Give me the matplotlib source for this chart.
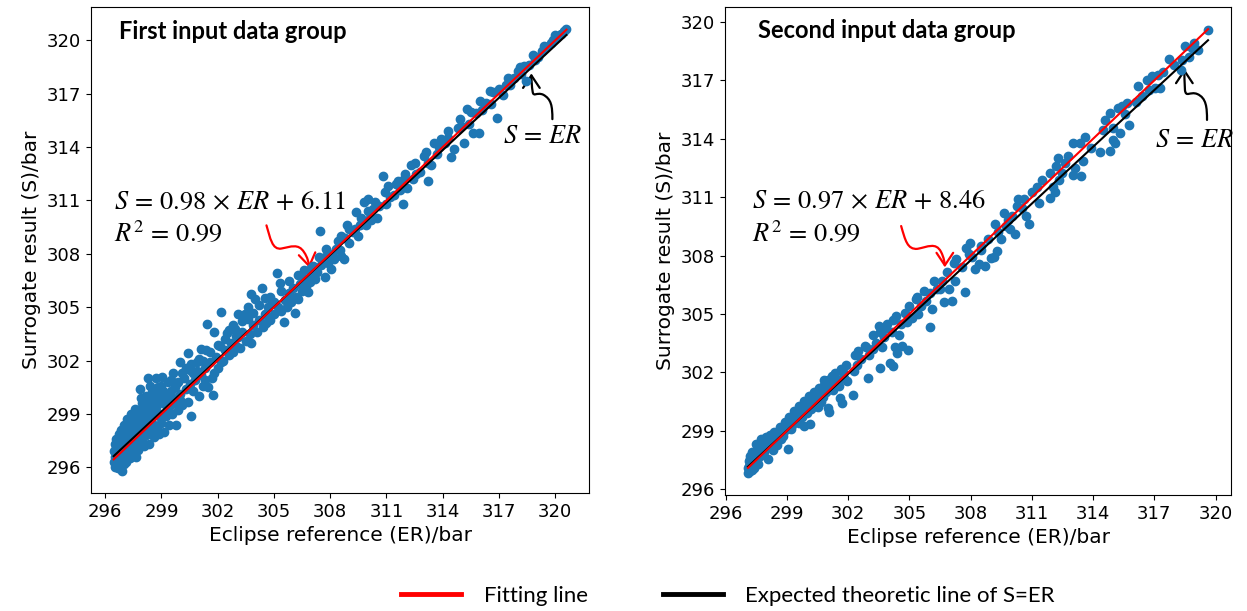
import numpy as np
import matplotlib
matplotlib.use('Agg')
import matplotlib.pyplot as plt
from matplotlib.lines import Line2D
from matplotlib.path import Path
from matplotlib.patches import FancyArrowPatch

plt.rcParams['mathtext.fontset'] = 'stix'

# first input data group: (ER, S)
pts1 = [
    (296.45, 296.3), (296.48, 296.9), (296.5, 297.3), (296.52, 296.0), (296.55, 296.6),
    (296.6, 297.6), (296.62, 296.2), (296.65, 297.0), (296.7, 295.95), (296.72, 297.9),
    (296.75, 296.5), (296.78, 297.3), (296.8, 296.8), (296.85, 298.1), (296.88, 295.8),
    (296.9, 296.3), (296.92, 297.6), (296.95, 297.0), (297.0, 298.4), (297.02, 296.2),
    (297.05, 296.7), (297.08, 297.3), (297.1, 298.0), (297.12, 296.5), (297.15, 298.7),
    (297.2, 297.6), (297.22, 296.9), (297.25, 298.3), (297.3, 296.5), (297.32, 297.2),
    (297.35, 299.0), (297.4, 297.9), (297.45, 296.8), (297.5, 298.6), (297.55, 297.4),
    (297.6, 299.3), (297.62, 296.6),
    (296.5, 296.6), (296.55, 297.1), (296.6, 296.4), (296.65, 297.4), (296.7, 296.7),
    (296.75, 297.7), (296.8, 296.1), (296.85, 297.2), (296.9, 296.6), (296.95, 297.8),
    (297.0, 296.9), (297.05, 297.5), (297.1, 296.3), (297.15, 297.9), (297.2, 297.1),
    (297.25, 296.7), (297.3, 298.0), (297.35, 297.6), (297.4, 296.9), (297.45, 298.3),
    (297.5, 297.2), (297.55, 298.0), (297.6, 297.7), (297.65, 298.5), (297.7, 297.3),
    (297.75, 299.1), (297.8, 297.9), (297.85, 298.4), (297.9, 299.9), (297.95, 297.6),
    (298.0, 299.3), (298.05, 298.6), (298.1, 297.9), (298.2, 299.5), (298.25, 298.9),
    (298.3, 298.2), (298.4, 300.6), (298.45, 299.2), (298.5, 298.5), (298.6, 299.9),
    (298.65, 299.0), (298.7, 298.0), (298.8, 300.5), (298.9, 299.7), (298.95, 298.8),
    (299.1, 300.3), (299.2, 299.0), (299.3, 300.0), (299.4, 299.4), (299.5, 300.9),
    (299.6, 299.9), (299.7, 300.5), (299.9, 300.8), (300.0, 299.8), (300.1, 301.3),
    (300.3, 301.6), (300.5, 300.7), (300.7, 301.3), (300.9, 301.4), (301.0, 302.1),
    (301.2, 302.0), (301.3, 300.9), (301.6, 302.5), (301.7, 301.0), (302.0, 302.9),
    (302.2, 301.9), (302.4, 303.2), (302.6, 303.7), (302.8, 304.0), (303.0, 303.4),
    (303.3, 304.2), (303.6, 305.0), (303.9, 304.7), (304.2, 305.1), (304.5, 305.5),
    (304.8, 305.6), (305.0, 305.3), (305.4, 305.9), (305.8, 306.5), (306.1, 305.5),
    (306.3, 306.8), (306.6, 307.1), (307.0, 307.2), (307.4, 307.8), (307.8, 308.3),
    (308.3, 308.3), (308.6, 309.0), (309.0, 309.4), (309.6, 309.6), (310.0, 310.4),
    (310.4, 310.9), (311.1, 311.8), (311.6, 312.1), (312.0, 312.5), (312.5, 313.1),
    (313.1, 313.7), (313.8, 314.0), (314.3, 314.9), (314.9, 315.6), (315.5, 316.0),
    (316.0, 316.6), (316.7, 317.1), (317.5, 317.9), (318.1, 318.5), (318.8, 319.2),
    (319.4, 319.7), (320.0, 320.3),
    (297.7, 298.1), (297.75, 297.0), (297.8, 298.8), (297.85, 300.4), (297.9, 297.5),
    (297.95, 299.6), (298.0, 298.3), (298.05, 297.2), (298.1, 299.1), (298.15, 300.0),
    (298.2, 297.8), (298.3, 301.05), (298.3, 298.6), (298.35, 297.3), (298.4, 299.7),
    (298.45, 298.0), (298.5, 300.25), (298.55, 298.9), (298.6, 297.7), (298.7, 301.05),
    (298.7, 299.4), (298.75, 298.2), (298.8, 300.0), (298.85, 297.9), (298.9, 299.0),
    (299.0, 300.6), (299.0, 298.5), (299.05, 301.1), (299.1, 299.6), (299.15, 298.0),
    (299.2, 300.1), (299.25, 298.9), (299.3, 299.3), (299.35, 300.8), (299.4, 298.4),
    (299.45, 299.8),
    (299.5, 300.3), (299.55, 299.0), (299.6, 301.3), (299.7, 299.6), (299.8, 298.4),
    (299.8, 300.7), (299.9, 299.2), (300.0, 301.9), (300.0, 300.1), (300.1, 299.5),
    (300.2, 301.0), (300.3, 300.4), (300.4, 302.45), (300.4, 299.7), (300.5, 301.5),
    (300.6, 298.9), (300.6, 301.8), (300.7, 300.3), (300.8, 300.9), (300.9, 301.9),
    (301.0, 300.0), (301.1, 302.65), (301.1, 301.2), (301.2, 300.6), (301.3, 301.6),
    (301.45, 304.05), (301.4, 302.6), (301.5, 300.5), (301.6, 301.9), (301.75, 300.05),
    (301.8, 303.6), (301.8, 301.3), (301.9, 302.2), (302.0, 301.6), (302.1, 302.8),
    (302.2, 304.75), (302.3, 302.0), (302.4, 302.6), (302.5, 303.55),
    (302.6, 302.3), (302.7, 303.0), (302.8, 302.5), (302.9, 303.8), (303.0, 302.8),
    (303.1, 304.6), (303.1, 303.3), (303.2, 302.7), (303.3, 303.6), (303.45, 304.6),
    (303.5, 303.1), (303.6, 304.35), (303.7, 303.5), (303.8, 305.75), (303.8, 303.0),
    (303.9, 304.0), (304.0, 305.45), (304.1, 303.6), (304.2, 304.3), (304.35, 306.1),
    (304.4, 303.9), (304.5, 304.6), (304.6, 304.1), (304.7, 305.0), (304.8, 304.3),
    (304.9, 305.3), (305.0, 304.6), (305.15, 306.9), (305.2, 305.0), (305.3, 306.35),
    (305.4, 304.8), (305.55, 304.15), (305.6, 305.4), (305.7, 305.0), (305.8, 305.8),
    (305.9, 305.3), (306.1, 304.7), (306.0, 306.1),
    (306.2, 305.6), (306.3, 305.45), (306.4, 306.3), (306.5, 305.9), (306.6, 306.6),
    (306.7, 306.2), (306.8, 305.85), (306.9, 306.4), (307.0, 306.8), (307.1, 307.3),
    (307.2, 306.6), (307.3, 307.0), (307.45, 309.3), (307.5, 307.4), (307.7, 306.7),
    (307.7, 307.8), (307.9, 307.5), (308.05, 307.15), (308.1, 308.0), (308.2, 307.7),
    (308.4, 308.7), (308.5, 308.2), (308.6, 307.9), (308.75, 307.7), (308.8, 308.9),
    (308.9, 309.6), (309.0, 308.6),
    (309.2, 309.2), (309.3, 309.4), (309.4, 310.35), (309.5, 309.0), (309.65, 310.0),
    (309.8, 310.9), (309.9, 309.6), (310.0, 311.1), (310.1, 310.0), (310.2, 309.9),
    (310.3, 310.5), (310.5, 310.0), (310.6, 310.7), (310.8, 312.4), (310.9, 311.5),
    (311.0, 310.8), (311.2, 311.2), (311.4, 311.3), (311.5, 311.9), (311.7, 311.6),
    (311.9, 310.8), (311.95, 312.2), (312.1, 311.7), (312.3, 313.0), (312.4, 312.2),
    (312.6, 312.5), (312.8, 312.6), (313.0, 313.5), (313.2, 312.1), (313.2, 313.1),
    (313.4, 313.0),
    (313.55, 314.25), (313.7, 313.6), (313.9, 314.45), (314.1, 314.25), (314.3, 314.5),
    (314.45, 313.45), (314.6, 313.9), (314.8, 315.1), (315.0, 315.2), (315.15, 314.25),
    (315.3, 316.15), (315.4, 315.3), (315.6, 314.8), (315.8, 315.9), (315.95, 314.8),
    (316.1, 316.1), (316.3, 316.5), (316.5, 317.15), (316.6, 316.4), (316.9, 315.65),
    (317.0, 317.25), (317.2, 316.9),
    (317.4, 317.5), (317.6, 317.5), (317.8, 317.9), (318.0, 318.25), (318.2, 318.1),
    (318.35, 318.55), (318.45, 317.7), (318.6, 318.6), (318.9, 318.9), (319.1, 319.05),
    (319.3, 319.4), (319.5, 319.6), (319.75, 319.85), (319.9, 320.0), (320.1, 320.2),
    (320.3, 320.35), (320.45, 320.5), (320.6, 320.63),
]

# second input data group
pts2 = [
    (297.1, 296.85), (297.12, 297.1), (297.15, 297.45), (297.18, 296.95), (297.2, 297.7),
    (297.25, 297.25), (297.3, 297.9), (297.35, 297.4), (297.4, 297.1), (297.45, 297.7),
    (297.5, 298.35), (297.55, 297.5), (297.6, 298.0), (297.7, 297.7), (297.75, 298.6),
    (297.8, 298.2), (297.9, 297.9), (297.95, 298.5), (298.05, 298.15), (298.1, 297.55),
    (298.15, 298.35), (298.2, 298.8), (298.3, 298.0), (298.35, 298.95), (298.4, 298.5),
    (298.5, 298.3), (298.6, 298.9), (298.7, 298.6), (298.75, 299.2), (298.85, 299.0),
    (298.95, 299.4), (299.05, 298.07), (299.05, 299.15), (299.15, 299.55), (299.2, 299.1),
    (299.3, 299.45), (299.4, 299.75),
    (297.15, 297.2), (297.22, 297.55), (297.28, 297.0), (297.35, 297.75), (297.42, 297.45),
    (297.5, 297.9), (297.58, 297.3), (297.65, 298.2), (297.72, 297.9), (297.85, 298.4),
    (297.92, 298.05), (298.0, 298.7), (298.08, 298.3), (298.25, 298.6), (298.32, 298.25),
    (298.45, 298.9), (298.55, 298.55), (298.65, 299.2), (298.8, 298.75), (298.9, 299.45),
    (299.0, 299.1), (299.1, 299.7), (299.25, 299.3), (299.35, 300.0), (299.45, 299.6),
    (299.6, 300.3), (299.7, 299.9), (299.85, 300.55), (299.95, 300.15), (300.1, 300.8),
    (300.25, 300.45), (300.35, 301.0), (300.5, 300.6), (300.6, 301.2), (300.8, 301.35),
    (301.0, 301.6), (301.2, 301.8), (301.35, 301.95), (301.5, 301.6), (301.75, 302.0),
    (301.9, 302.4), (302.5, 303.1), (302.9, 303.3), (303.2, 303.9), (303.5, 304.4),
    (303.9, 304.5), (304.2, 304.7), (304.6, 304.5), (305.0, 305.4), (305.4, 305.9),
    (306.0, 306.1), (306.6, 306.7), (307.2, 307.6), (307.9, 308.1), (308.5, 308.5),
    (309.2, 309.6), (310.6, 310.9), (311.5, 311.9), (312.3, 313.0), (313.6, 314.1),
    (315.4, 315.7), (316.2, 316.7), (317.7, 318.1), (318.5, 318.75),
    (299.58, 299.4), (299.63, 299.95), (299.73, 299.7), (299.83, 299.25), (299.88, 300.2),
    (299.98, 299.9), (300.08, 300.4), (300.13, 299.35), (300.18, 300.1), (300.28, 300.65),
    (300.38, 300.3), (300.49, 300.8), (300.54, 300.25), (300.64, 300.9), (300.69, 300.5),
    (300.79, 300.75), (300.84, 301.6), (300.94, 301.0), (301.04, 300.2), (301.09, 299.95),
    (301.15, 301.3), (301.25, 301.1), (301.4, 301.5), (301.56, 301.3), (301.61, 300.7),
    (301.66, 302.2), (301.71, 300.45), (301.81, 301.7), (301.97, 301.55),
    (302.23, 300.85), (302.28, 302.1), (302.33, 302.9), (302.43, 302.4), (302.64, 302.7),
    (302.84, 303.35), (303.0, 301.7), (303.05, 302.9), (303.2, 303.2), (303.36, 303.5),
    (303.56, 304.1), (303.56, 302.25), (303.67, 303.3), (303.77, 303.8), (303.87, 304.3),
    (304.03, 302.5), (304.13, 304.1), (304.18, 302.35), (304.28, 303.3), (304.34, 304.9),
    (304.39, 303.0), (304.49, 303.9), (304.64, 303.35), (304.8, 305.05), (304.9, 304.6),
    (304.95, 303.15), (305.11, 304.8), (305.31, 305.75), (305.42, 305.0), (305.57, 305.4),
    (305.72, 306.2), (305.83, 305.65), (306.03, 304.35), (306.13, 305.25), (306.23, 306.7),
    (306.34, 306.3), (306.49, 306.28), (306.7, 305.63), (306.85, 307.14), (306.95, 306.3),
    (307.11, 305.65), (307.26, 306.7), (307.31, 307.83), (307.57, 307.4), (307.72, 306.14),
    (307.78, 308.4), (307.98, 308.65), (308.08, 307.95), (308.24, 307.31), (308.39, 307.57),
    (308.49, 308.3), (308.7, 307.48), (308.85, 308.85), (309.0, 307.9), (309.16, 307.91),
    (309.31, 308.26), (309.36, 309.2), (309.47, 308.85), (309.62, 310.2), (309.72, 309.5),
    (309.82, 309.85), (309.93, 309.35), (310.03, 310.05), (310.18, 309.1), (310.29, 310.55),
    (310.34, 310.9),
    (310.5, 310.45), (310.7, 310.05), (310.85, 309.6), (311.0, 311.25), (311.26, 311.55),
    (311.36, 310.7), (311.87, 310.95), (312.13, 311.25), (312.03, 311.55), (311.87, 312.25),
    (312.18, 312.6), (312.33, 311.9), (312.49, 312.25), (312.64, 312.75), (312.79, 313.1),
    (313.0, 312.15), (313.1, 312.5), (313.41, 312.1), (313.51, 312.85), (313.0, 313.8),
    (313.36, 313.8),
    (313.88, 313.55), (314.34, 313.3), (314.96, 313.95), (314.85, 313.35), (315.06, 313.8),
    (315.32, 314.3), (314.96, 314.55), (314.5, 314.45), (314.6, 314.95), (314.85, 315.3),
    (315.57, 315.25), (315.78, 314.7), (315.21, 315.6), (315.67, 315.85), (316.08, 315.9),
    (316.39, 316.2), (316.75, 316.5), (317.01, 316.6), (317.27, 316.6), (316.65, 317.0),
    (316.9, 317.2), (317.16, 317.27), (317.42, 317.45),
    (317.94, 317.8), (318.3, 317.55), (318.35, 318.05), (318.71, 318.2), (318.86, 318.65),
    (318.96, 318.9), (319.12, 318.55), (319.63, 319.6),
]

# linear fits (slope, intercept) as printed; black line in the picture
fit1 = (0.98, 6.11)
fit2 = (0.972, 8.38)

titles = ['First input data group', 'Second input data group']
eqs = [r'$S\,=\,0.98\,\times\,ER\,+\,6.11$', r'$S\,=\,0.97\,\times\,ER\,+\,8.46$']
r2 = r'$R^2\,=\,0.99$'
ticks = np.arange(296, 321, 3)

fig = plt.figure(figsize=(12.47, 6.11), dpi=100)
ax1 = fig.add_axes([0.073, 0.1931, 0.3994, 0.7954])
ax2 = fig.add_axes([0.5814, 0.1899, 0.4058, 0.7987])


def squiggle(ax, verts, color):
    codes = [Path.MOVETO] + [Path.CURVE4] * (len(verts) - 1)
    arr = FancyArrowPatch(path=Path(verts, codes),
                          arrowstyle='->,head_length=0.45,head_width=0.3',
                          mutation_scale=20, color=color, lw=1.6,
                          transform=ax.transData)
    ax.add_artist(arr)


for ax, pts, (k, b) in [(ax1, pts1, fit1), (ax2, pts2, fit2)]:
    er, s = np.array(pts).T
    ax.scatter(er, s, s=36, color='#1f77b4', zorder=2)
    xx = np.array([er.min(), er.max()])
    ax.plot(xx, k * xx + b, color='black', lw=1.5, zorder=3)
    ax.plot(xx, xx, color='red', lw=1.5, zorder=4)
    ax.set_xticks(ticks)
    ax.set_yticks(ticks)
    ax.tick_params(labelsize=13)
    ax.set_xlabel('Eclipse reference (ER)/bar', fontsize=14.5)
    ax.set_ylabel('Surrogate result (S)/bar', fontsize=14.5)

# left panel annotations
ax1.text(296.73, 320.47, titles[0], fontsize=17, fontweight='bold', family='Lato', va='center')
ax1.text(296.45, 310.9, eqs[0], fontsize=19, va='center')
ax1.text(296.45, 309.14, r2, fontsize=19, va='center')
ax1.text(317.2, 314.6, r'$S\,=\,ER$', fontsize=19, va='center')
squiggle(ax1, [(304.6, 309.6), (304.8, 308.9), (304.9, 308.2), (305.4, 308.3),
               (305.9, 308.4), (306.3, 308.6), (306.6, 308.1),
               (306.8, 307.8), (306.85, 307.5), (306.9, 307.2)], 'red')
squiggle(ax1, [(319.85, 315.57), (319.85, 316.3), (319.8, 316.7), (319.35, 316.95),
               (319.0, 317.1), (318.85, 316.8), (318.8, 317.1),
               (318.75, 317.4), (318.73, 317.8), (318.73, 318.14)], 'black')

# right panel annotations
ax2.text(297.6, 319.54, titles[1], fontsize=17, fontweight='bold', family='Lato', va='center')
ax2.text(297.3, 310.8, eqs[1], fontsize=19, va='center')
ax2.text(297.3, 309.1, r2, fontsize=19, va='center')
ax2.text(317.05, 313.95, r'$S\,=\,ER$', fontsize=19, va='center')
squiggle(ax2, [(304.6, 309.52), (304.8, 308.8), (304.9, 308.3), (305.4, 308.35),
               (305.9, 308.45), (306.3, 308.7), (306.55, 308.2),
               (306.7, 307.9), (306.74, 307.6), (306.74, 307.4)], 'red')
squiggle(ax2, [(319.58, 314.97), (319.58, 315.6), (319.55, 316.1), (319.1, 316.3),
               (318.75, 316.45), (318.55, 316.1), (318.5, 316.5),
               (318.48, 316.9), (318.47, 317.3), (318.47, 317.6)], 'black')

handles = [Line2D([], [], color='red', lw=3.5), Line2D([], [], color='black', lw=3.5)]
fig.legend(handles, ['Fitting line', 'Expected theoretic line of S=ER'],
           loc='center', bbox_to_anchor=(0.584, 0.0245), ncol=2, frameon=False,
           prop={'family': 'Lato', 'size': 16}, handlelength=2.7,
           handletextpad=1.0, columnspacing=3.4)

fig.savefig('out.png', dpi=100)
